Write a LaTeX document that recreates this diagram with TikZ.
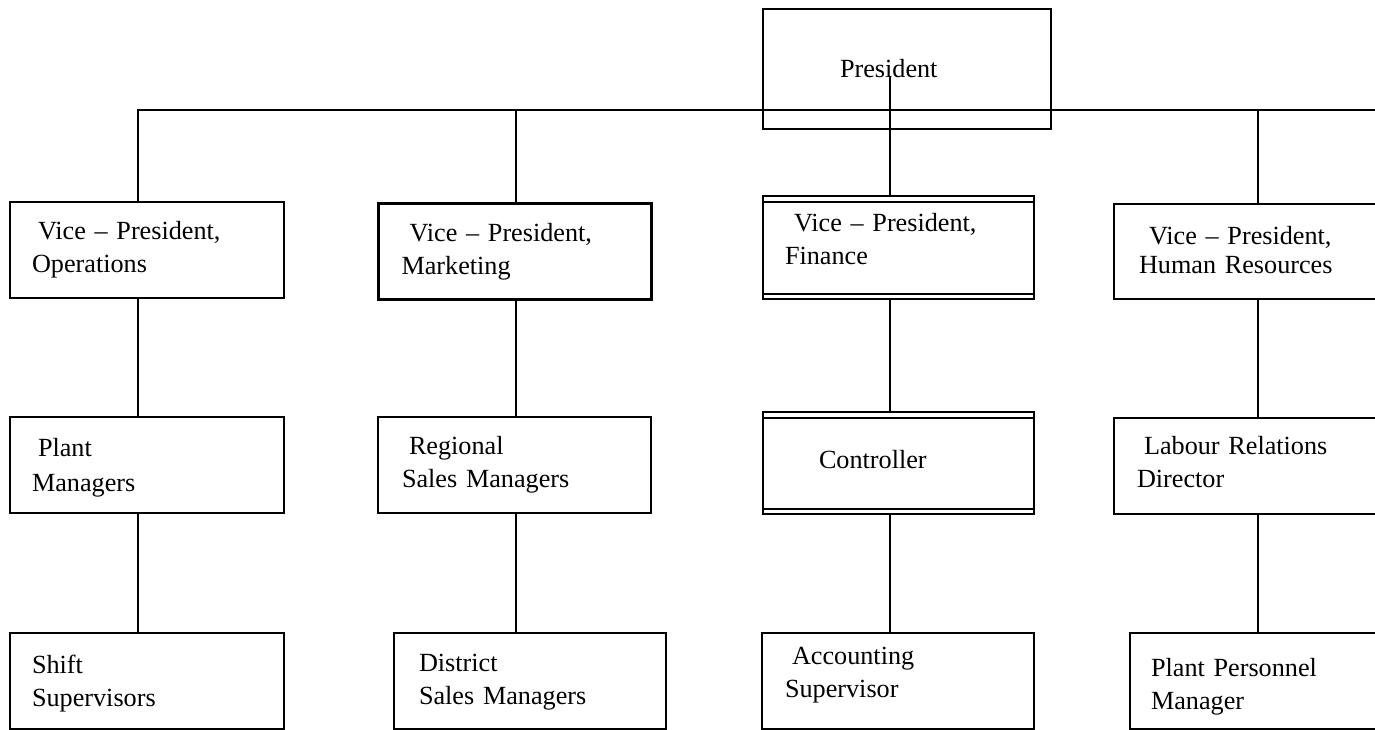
\documentclass[tikz,border=0pt]{standalone}
\usepackage{fontspec}
\setmainfont{Liberation Serif}

\newcommand{\orgfont}{\fontsize{26.2}{33}\selectfont}

\begin{document}
\begin{tikzpicture}[x=1pt, y=-1pt,
    unit/.style={draw, line width=2pt, anchor=north west, align=left, inner ysep=0pt, font=\orgfont},
    link/.style={line width=2pt},
    rule/.style={line width=1.6pt}]
  \useasboundingbox (0,0) rectangle (1375,729);
  \clip (0,0) rectangle (1375,729);

  % top
  \node[unit, text width=134pt, inner xsep=77pt, text height=68pt, text depth=52pt] (pres) at (762,8) {President};

  % vice presidents
  \node[unit, text width=230pt, inner xsep=22pt, text height=37pt, text depth=59pt] (vpops) at (9,201) {\hspace*{6pt}Vice -- President,\\Operations};
  \node[unit, line width=3pt, text width=227pt, inner xsep=23pt, text height=38pt, text depth=58pt] (vpmkt) at (377,202) {\hspace*{8pt}Vice -- President,\\Marketing};
  \node[unit, text width=227pt, inner xsep=22pt, text height=35pt, text depth=68pt] (vpfin) at (762,195) {\hspace*{9pt}Vice -- President,\\Finance};
  \node[unit, font={\fontsize{26.2}{29}\selectfont}, text width=222pt, inner xsep=25pt, text height=40pt, text depth=55pt] (vphr) at (1113,203) {\hspace*{10pt}Vice -- President,\\Human Resources};

  % second level
  \node[unit, font={\fontsize{26.2}{35}\selectfont}, text width=230pt, inner xsep=22pt, text height=39pt, text depth=57pt] (plant) at (9,416) {\hspace*{6pt}Plant\\Managers};
  \node[unit, text width=225pt, inner xsep=24pt, text height=37pt, text depth=59pt] (regional) at (377,416) {\hspace*{7pt}Regional\\Sales Managers};
  \node[unit, text width=159pt, inner xsep=56pt, text height=56pt, text depth=46pt] (ctrl) at (762,411) {Controller};
  \node[unit, text width=226pt, inner xsep=23pt, text height=36pt, text depth=60pt] (labour) at (1113,417) {\hspace*{7pt}Labour Relations\\Director};

  % third level
  \node[unit, text width=230pt, inner xsep=22pt, text height=40pt, text depth=56pt] (shift) at (9,632) {Shift\\Supervisors};
  \node[unit, text width=222pt, inner xsep=25pt, text height=38pt, text depth=58pt] (district) at (393,632) {District\\Sales Managers};
  \node[unit, text width=226pt, inner xsep=23pt, text height=31pt, text depth=65pt] (acct) at (761,632) {\hspace*{7pt}Accounting\\Supervisor};
  \node[unit, text width=218pt, inner xsep=21pt, text height=43pt, text depth=53pt] (ppm) at (1129,632) {Plant Personnel\\Manager};

  % double rules on the finance column
  \draw[rule] ([yshift=-7pt]vpfin.north west) -- ([yshift=-7pt]vpfin.north east);
  \draw[rule] ([yshift=6pt]vpfin.south west) -- ([yshift=6pt]vpfin.south east);
  \draw[rule] ([yshift=-7pt]ctrl.north west) -- ([yshift=-7pt]ctrl.north east);
  \draw[rule] ([yshift=6pt]ctrl.south west) -- ([yshift=6pt]ctrl.south east);

  % bus and stems
  \coordinate (busL) at (138,110);
  \coordinate (busR) at (1380,110);
  \coordinate (c2) at (516,110);
  \coordinate (stem) at (890,76);
  \coordinate (c4) at (1258,110);

  \draw[link] (busR) -- (busL) -- (busL |- vpops.north);
  \draw[link] (c2) -- (c2 |- vpmkt.north);
  \draw[link] (stem) -- (stem |- vpfin.north);
  \draw[link] (c4) -- (c4 |- vphr.north);

  \draw[link] (busL |- vpops.south) -- (busL |- plant.north);
  \draw[link] (busL |- plant.south) -- (busL |- shift.north);
  \draw[link] (c2 |- vpmkt.south) -- (c2 |- regional.north);
  \draw[link] (c2 |- regional.south) -- (c2 |- district.north);
  \draw[link] (stem |- vpfin.south) -- (stem |- ctrl.north);
  \draw[link] (stem |- ctrl.south) -- (stem |- acct.north);
  \draw[link] (c4 |- vphr.south) -- (c4 |- labour.north);
  \draw[link] (c4 |- labour.south) -- (c4 |- ppm.north);
\end{tikzpicture}
\end{document}
